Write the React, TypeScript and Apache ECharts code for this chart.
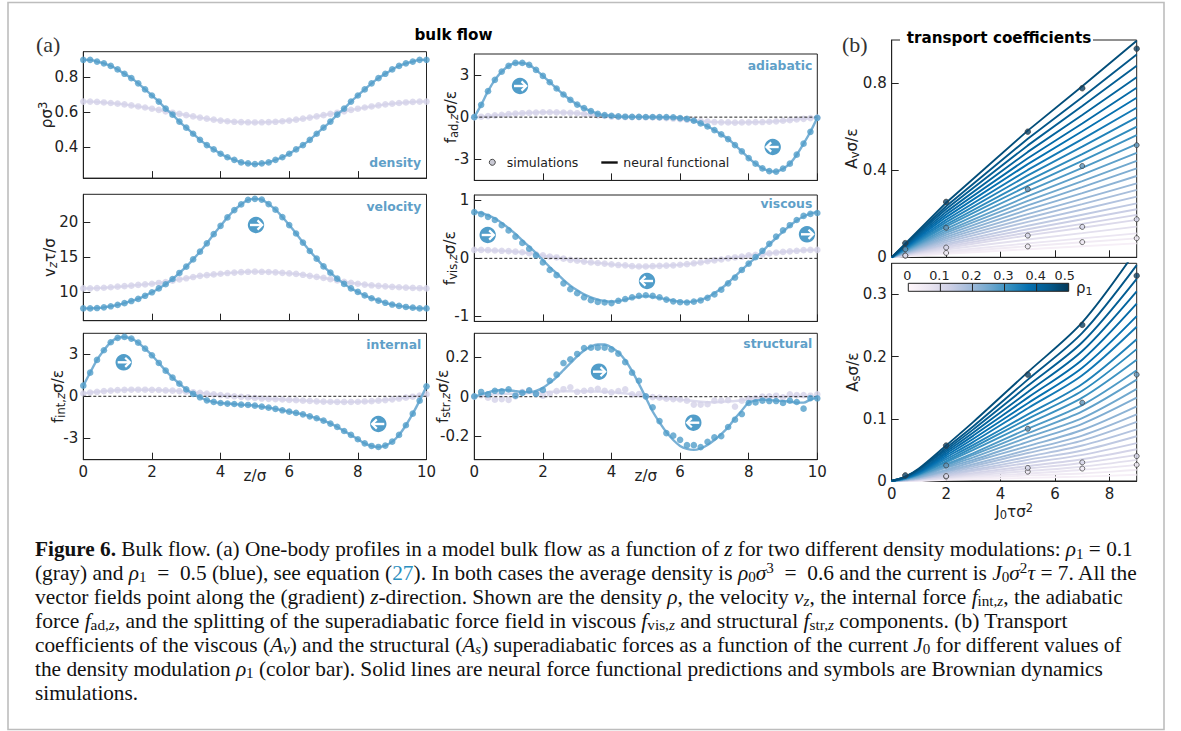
import React, { useEffect, useRef } from "react";
import * as echarts from "echarts";

// ---- data: z grid (sigma) ----
const zGrid = [0,0.2,0.4,0.6,0.8,1,1.2,1.4,1.6,1.8,2,2.2,2.4,2.6,2.8,3,3.2,3.4,3.6,3.8,4,4.2,4.4,4.6,4.8,5,5.2,5.4,5.6,5.8,6,6.2,6.4,6.6,6.8,7,7.2,7.4,7.6,7.8,8,8.2,8.4,8.6,8.8,9,9.2,9.4,9.6,9.8,10];

const densityBlue = [0.9,0.9,0.89,0.88,0.865,0.845,0.82,0.795,0.765,0.73,0.695,0.66,0.62,0.585,0.545,0.51,0.475,0.44,0.41,0.385,0.36,0.34,0.325,0.31,0.305,0.3,0.305,0.31,0.325,0.34,0.36,0.385,0.41,0.44,0.475,0.51,0.545,0.585,0.62,0.66,0.695,0.73,0.765,0.795,0.82,0.845,0.865,0.88,0.89,0.9,0.9];
const densityGray = [0.66,0.66,0.658,0.655,0.652,0.648,0.644,0.638,0.632,0.626,0.619,0.612,0.604,0.596,0.589,0.582,0.575,0.568,0.562,0.556,0.551,0.547,0.544,0.542,0.541,0.54,0.541,0.542,0.544,0.547,0.551,0.556,0.562,0.568,0.575,0.582,0.589,0.596,0.604,0.612,0.619,0.626,0.632,0.638,0.644,0.648,0.652,0.655,0.658,0.66,0.66];

const velocityBlue = [7.7,7.7,7.75,7.85,8.0,8.2,8.45,8.75,9.05,9.5,10.0,10.55,11.15,11.9,12.76,13.66,14.7,15.8,17.0,18.3,19.5,20.7,21.75,22.55,23.2,23.35,23.25,22.6,21.8,20.75,19.6,18.4,17.1,15.9,14.8,13.7,12.8,11.95,11.2,10.55,10.05,9.55,9.15,8.8,8.5,8.25,8.05,7.9,7.8,7.7,7.7];
const velocityGray = [10.55,10.56,10.6,10.65,10.72,10.8,10.87,10.95,11.05,11.13,11.22,11.33,11.47,11.65,11.85,12.0,12.18,12.35,12.45,12.55,12.65,12.75,12.82,12.88,12.93,12.95,12.93,12.9,12.85,12.78,12.7,12.62,12.5,12.35,12.2,12.05,11.88,11.7,11.5,11.35,11.22,11.1,11.0,10.92,10.85,10.78,10.72,10.67,10.62,10.58,10.55];

const internalBlue = [0.76,1.69,2.6,3.29,3.86,4.17,4.24,4.12,3.83,3.4,2.93,2.38,1.83,1.33,0.9,0.5,0.17,-0.07,-0.29,-0.4,-0.48,-0.52,-0.55,-0.6,-0.62,-0.67,-0.74,-0.81,-0.9,-1,-1.1,-1.19,-1.29,-1.43,-1.57,-1.74,-1.95,-2.19,-2.48,-2.76,-3.07,-3.36,-3.55,-3.62,-3.52,-3.24,-2.76,-2.07,-1.24,-0.31,0.71];
const internalGray = [0.2,0.27,0.32,0.37,0.4,0.44,0.46,0.47,0.47,0.47,0.46,0.45,0.42,0.4,0.37,0.33,0.29,0.24,0.19,0.14,0.09,0.04,0,-0.04,-0.08,-0.12,-0.16,-0.18,-0.2,-0.23,-0.26,-0.28,-0.31,-0.33,-0.36,-0.38,-0.39,-0.4,-0.4,-0.4,-0.39,-0.37,-0.35,-0.31,-0.27,-0.22,-0.16,-0.1,-0.03,0.05,0.15];

const adiabaticBlue = [0,0.88,1.86,2.67,3.26,3.67,3.88,3.88,3.74,3.38,2.95,2.5,2.05,1.62,1.24,0.9,0.64,0.43,0.24,0.14,0.1,0.05,0.03,0.02,0.02,0.01,0.01,0,0,-0.01,-0.07,-0.12,-0.26,-0.45,-0.67,-0.93,-1.24,-1.57,-2.0,-2.45,-2.93,-3.33,-3.67,-3.86,-3.9,-3.69,-3.33,-2.69,-1.9,-1.05,-0.05];
const adiabaticGray = [0,0.03,0.07,0.12,0.17,0.21,0.25,0.28,0.31,0.33,0.35,0.35,0.34,0.33,0.31,0.28,0.24,0.19,0.13,0.08,0.04,0.02,0,0,0,-0.01,-0.02,-0.04,-0.07,-0.1,-0.14,-0.19,-0.23,-0.28,-0.32,-0.35,-0.37,-0.38,-0.39,-0.38,-0.37,-0.36,-0.35,-0.33,-0.3,-0.26,-0.22,-0.17,-0.12,-0.07,-0.03];

const viscousBlue = [0.795,0.76,0.715,0.66,0.57,0.48,0.375,0.265,0.167,0.05,-0.07,-0.2,-0.29,-0.43,-0.53,-0.6,-0.67,-0.72,-0.75,-0.76,-0.77,-0.73,-0.7,-0.67,-0.645,-0.635,-0.645,-0.67,-0.71,-0.74,-0.755,-0.76,-0.745,-0.725,-0.68,-0.62,-0.54,-0.43,-0.33,-0.2,-0.09,0.02,0.13,0.25,0.375,0.48,0.57,0.66,0.73,0.765,0.78];
const viscousBlueLine = [0.8,0.78,0.74,0.685,0.61,0.52,0.42,0.31,0.2,0.09,-0.03,-0.15,-0.26,-0.37,-0.47,-0.55,-0.62,-0.67,-0.71,-0.735,-0.745,-0.735,-0.71,-0.68,-0.66,-0.65,-0.66,-0.68,-0.705,-0.73,-0.745,-0.75,-0.74,-0.715,-0.67,-0.6,-0.52,-0.42,-0.31,-0.2,-0.09,0.01,0.12,0.24,0.35,0.46,0.56,0.65,0.72,0.77,0.8];
const viscousGray = [0.145,0.145,0.14,0.135,0.13,0.125,0.115,0.105,0.09,0.07,0.05,0.03,0.015,-0.005,-0.025,-0.04,-0.055,-0.07,-0.08,-0.09,-0.105,-0.115,-0.12,-0.135,-0.14,-0.14,-0.135,-0.13,-0.125,-0.12,-0.11,-0.1,-0.085,-0.07,-0.05,-0.035,-0.02,0,0.015,0.03,0.05,0.06,0.07,0.085,0.1,0.11,0.12,0.13,0.14,0.145,0.145];

const structuralBlue = [0.002,0.024,0.012,0.03,0.027,0.037,0.005,0.019,0.032,0.014,0.034,0.081,0.112,0.171,0.19,0.217,0.247,0.249,0.249,0.249,0.24,0.219,0.176,0.122,0.081,0.002,-0.054,-0.124,-0.185,-0.198,-0.219,-0.246,-0.246,-0.256,-0.229,-0.207,-0.2,-0.154,-0.117,-0.088,-0.032,-0.029,-0.02,-0.022,-0.022,-0.032,-0.02,-0.027,-0.061,-0.007,-0.008];
const structuralBlueLine = [0,0.012,0.022,0.03,0.034,0.033,0.028,0.024,0.023,0.03,0.045,0.07,0.1,0.135,0.17,0.205,0.235,0.255,0.265,0.265,0.25,0.225,0.185,0.13,0.065,-0.005,-0.075,-0.13,-0.18,-0.22,-0.25,-0.265,-0.27,-0.262,-0.245,-0.22,-0.19,-0.155,-0.11,-0.07,-0.03,-0.02,-0.015,-0.017,-0.02,-0.022,-0.025,-0.03,-0.03,-0.015,-0.005];
const structuralGray = [0,0.008,-0.005,-0.015,-0.012,-0.016,0.002,0.024,0.03,0.018,0.005,0.015,0.028,0.038,0.048,0.025,0.03,0.033,0.04,0.03,0.022,0.028,0.037,0.012,0.013,0.002,-0.002,-0.005,-0.01,-0.012,-0.014,-0.02,-0.04,-0.04,-0.038,-0.02,-0.02,-0.018,-0.05,-0.02,-0.01,-0.008,0,0.002,0.005,-0.003,0.012,0.008,0.008,0.005,0.012];
const structuralGrayLine = [0,0.005,0.01,0.012,0.014,0.015,0.015,0.016,0.018,0.02,0.022,0.024,0.026,0.028,0.028,0.028,0.028,0.027,0.026,0.025,0.023,0.02,0.017,0.012,0.007,0.002,-0.003,-0.006,-0.01,-0.012,-0.015,-0.018,-0.022,-0.026,-0.028,-0.028,-0.026,-0.024,-0.022,-0.018,-0.013,-0.01,-0.006,-0.003,-0.001,0,0.002,0.003,0.003,0.002,0];

// ---- transport coefficients: one row per density modulation, highest rho1 first ----
const avCurrents = [0, 2, 5, 7, 9];
const avRows = [
  [0,0.251,0.583,0.787,0.997],[0,0.235,0.546,0.737,0.933],[0,0.222,0.515,0.696,0.881],[0,0.209,0.485,0.655,0.829],
  [0,0.197,0.456,0.616,0.78],[0,0.185,0.429,0.58,0.734],[0,0.173,0.402,0.544,0.688],[0,0.162,0.377,0.509,0.644],
  [0,0.151,0.352,0.475,0.601],[0,0.142,0.329,0.444,0.562],[0,0.131,0.305,0.412,0.521],[0,0.121,0.281,0.38,0.481],
  [0,0.112,0.26,0.351,0.444],[0,0.103,0.239,0.323,0.409],[0,0.094,0.219,0.295,0.374],[0,0.086,0.199,0.269,0.34],
  [0,0.078,0.181,0.245,0.31],[0,0.07,0.163,0.22,0.279],[0,0.062,0.145,0.196,0.248],[0,0.056,0.129,0.175,0.221],
  [0,0.049,0.114,0.154,0.195],[0,0.043,0.101,0.136,0.172],[0,0.036,0.082,0.111,0.141],[0,0.028,0.064,0.087,0.11],
  [0,0.022,0.051,0.069,0.087],[0,0.016,0.037,0.051,0.064],
];
const asCurrents = [0, 0.5, 1, 2, 3, 5, 7, 9];
const asRows = [
  [0,0.007,0.02,0.057,0.095,0.175,0.255,0.372],[0,0.007,0.019,0.053,0.088,0.163,0.238,0.347],
  [0,0.006,0.018,0.05,0.083,0.153,0.223,0.325],[0,0.006,0.016,0.047,0.078,0.143,0.209,0.305],
  [0,0.006,0.015,0.044,0.073,0.134,0.195,0.285],[0,0.005,0.014,0.041,0.068,0.125,0.182,0.265],
  [0,0.005,0.013,0.038,0.063,0.117,0.17,0.248],[0,0.005,0.012,0.035,0.058,0.107,0.156,0.228],
  [0,0.004,0.011,0.032,0.054,0.1,0.145,0.212],[0,0.004,0.011,0.03,0.05,0.092,0.134,0.195],
  [0,0.004,0.01,0.027,0.045,0.084,0.122,0.178],[0,0.003,0.009,0.025,0.042,0.077,0.112,0.163],
  [0,0.003,0.008,0.023,0.038,0.07,0.101,0.148],[0,0.003,0.007,0.021,0.034,0.063,0.092,0.134],
  [0,0.002,0.006,0.018,0.031,0.056,0.082,0.12],[0,0.002,0.006,0.016,0.027,0.05,0.073,0.107],
  [0,0.002,0.005,0.015,0.024,0.045,0.065,0.095],[0,0.002,0.004,0.013,0.021,0.039,0.057,0.083],
  [0,0.001,0.004,0.011,0.018,0.034,0.049,0.072],[0,0.001,0.003,0.009,0.016,0.029,0.042,0.061],
  [0,0.001,0.003,0.008,0.013,0.024,0.035,0.051],[0,0.001,0.002,0.006,0.011,0.02,0.029,0.042],
  [0,0.001,0.002,0.005,0.009,0.016,0.023,0.034],[0,0,0.001,0.004,0.007,0.012,0.018,0.026],
  [0,0,0.001,0.003,0.005,0.009,0.012,0.018],[0,0,0,0.002,0.003,0.005,0.007,0.01],
];
const avSim50 = [[0.5,0.065],[2,0.255],[5,0.578],[7,0.778],[9,0.96]];
const avSim30 = [[0.5,0.037],[2,0.136],[5,0.313],[7,0.42],[9,0.516]];
const avSim10 = [[0.5,0.008],[2,0.045],[5,0.1],[7,0.14],[9,0.175]];
const avSim05 = [[0.5,0.008],[2,0.02],[5,0.05],[7,0.07],[9,0.088]];
const asSim50 = [[0.5,0.009],[2,0.057],[5,0.171],[7,0.251],[9,0.33]];
const asSim30 = [[2,0.025],[5,0.084],[7,0.126],[9,0.171]];
const asSim10 = [[2,0.008],[5,0.021],[7,0.03],[9,0.04]];
const asSim05 = [[2,0.007],[5,0.015],[7,0.02],[9,0.026]];

const colorbarTicks = ["0", "0.1", "0.2", "0.3", "0.4", "0.5"];

const captionLines = [
  "{b|Figure 6.}{t| Bulk flow. (a) One-body profiles in a model bulk flow as a function of }{i|z}{t| for two different density modulations: }{i|ρ}{s|1}{t| = 0.1}",
  "{t|(gray) and }{i|ρ}{s|1}{t|  =  0.5 (blue), see equation (}{c|27}{t|). In both cases the average density is }{i|ρ}{s|0}{i|σ}{u|3}{t|  =  0.6 and the current is }{i|J}{s|0}{i|σ}{u|2}{i|τ}{t| = 7. All the}",
  "{t|vector fields point along the (gradient) }{i|z}{t|-direction. Shown are the density }{i|ρ}{t|, the velocity }{i|v}{si|z}{t|, the internal force }{i|f}{s|int,}{si|z}{t|, the adiabatic}",
  "{t|force }{i|f}{s|ad,}{si|z}{t|, and the splitting of the superadiabatic force field in viscous }{i|f}{s|vis,}{si|z}{t| and structural }{i|f}{s|str,}{si|z}{t| components. (b) Transport}",
  "{t|coefficients of the viscous (}{i|A}{si|v}{t|) and the structural (}{i|A}{si|s}{t|) superadiabatic forces as a function of the current }{i|J}{s|0}{t| for different values of}",
  "{t|the density modulation }{i|ρ}{s|1}{t| (color bar). Solid lines are neural force functional predictions and symbols are Brownian dynamics}",
  "{t|simulations.}",
];
const captionFit = [1.002, 1.008, 1.01, 1.0167, 1.005, 1.007, 1];

// ---- styling ----
const BLUE = "#519dc9", BLUE_LINE = "#78b0d5", GRAY = "#d4d2e8", GRAY_LINE = "#dddcee", LABEL = "#5f9fc8";
const SANS = "'DejaVu Sans'", SERIF = "'Liberation Serif'";
const PUBU = ["#fff7fb","#ece7f2","#d0d1e6","#a6bddb","#74a9cf","#3690c0","#0570b0","#045a8d","#023858"];
function pubu(t: number) {
  const p = Math.max(0, Math.min(0.9999, t)) * (PUBU.length - 1), i = Math.floor(p), f = p - i;
  const h = (s: string, k: number) => parseInt(s.slice(k, k + 2), 16);
  const c = [1, 3, 5].map((k) => Math.round(h(PUBU[i], k) * (1 - f) + h(PUBU[i + 1], k) * f));
  return `rgb(${c[0]},${c[1]},${c[2]})`;
}

const nameRich = {
  n: { fontFamily: SANS, fontSize: 15.2, lineHeight: 18, color: "#222" },
  s: { fontFamily: SANS, fontSize: 11.5, lineHeight: 18, color: "#222", padding: [6, 0, 0, 0] },
  si: { fontFamily: SANS, fontStyle: "italic", fontSize: 11.5, lineHeight: 18, color: "#222", padding: [6, 0, 0, 0] },
  u: { fontFamily: SANS, fontSize: 11.5, lineHeight: 18, color: "#222", padding: [0, 0, 8, 0] },
};

const ax = { line: { lineStyle: { color: "#222", width: 1 } } };
function xAxis(i: number, max: number, ticks: number[], labels: boolean, name?: string) {
  return {
    gridIndex: i, type: "value", min: 0, max,
    axisLine: { show: true, onZero: false, ...ax.line },
    splitLine: { show: false },
    axisTick: { show: true, inside: true, length: 7, lineStyle: { color: "#222" }, customValues: ticks },
    axisLabel: { show: labels, fontFamily: SANS, fontSize: 15, color: "#222", margin: 5, customValues: ticks, formatter: (v: number) => String(v) },
    name: name || "", nameLocation: "middle", nameGap: 7, nameMoveOverlap: false,
    nameTextStyle: { rich: nameRich },
  };
}
function yAxis(i: number, min: number, max: number, ticks: number[], name: string, gap: number) {
  return {
    gridIndex: i, type: "value", min, max,
    axisLine: { show: true, onZero: false, ...ax.line },
    splitLine: { show: false },
    axisTick: { show: true, inside: true, length: 7, lineStyle: { color: "#222" }, customValues: ticks },
    axisLabel: { fontFamily: SANS, fontSize: 15, color: "#222", margin: 5, customValues: ticks, formatter: (v: number) => String(v) },
    name, nameLocation: "middle", nameRotate: 90, nameGap: gap, nameMoveOverlap: false,
    nameTextStyle: { rich: nameRich },
  };
}

const pairs = (ys: number[]) => ys.map((y, i) => [zGrid[i], y]);
function profile(g: number, ptsGray: number[], ptsBlue: number[], lineGray: number[], lineBlue: number[], dashed: boolean) {
  const mk = (type: string, d: number[], col: string, z: number) => ({
    type, xAxisIndex: g, yAxisIndex: g, data: pairs(d), z, silent: true, ...(type === "line"
      ? { showSymbol: false, symbol: "none", smooth: 0.3, lineStyle: { color: col, width: 2.4 } }
      : { symbolSize: 6.6, clip: false, itemStyle: { color: col } }),
  });
  const out: any[] = [
    mk("line", lineGray, GRAY_LINE, 2),
    mk("scatter", ptsGray, GRAY, 3),
  ];
  if (dashed) out.push({ type: "line", xAxisIndex: g, yAxisIndex: g, data: [[0, 0], [10, 0]], symbol: "none", z: 4, silent: true, lineStyle: { color: "#222", width: 1, type: [3, 2] } });
  out.push(mk("line", lineBlue, BLUE_LINE, 5));
  out.push(mk("scatter", ptsBlue, BLUE, 6));
  return out;
}
function sim(g: number, d: number[][], fill: string, size: number) {
  return { type: "scatter", xAxisIndex: g, yAxisIndex: g, data: d, z: 20, clip: false, silent: true, symbolSize: size, itemStyle: { color: fill, borderColor: "#3c3c3c", borderWidth: 0.9 } };
}

function badge(x: number, y: number, right: boolean) {
  const d = right ? 1 : -1;
  return {
    type: "group", x, y, z: 30, children: [
      { type: "circle", shape: { cx: 0, cy: 0, r: 8.2 }, style: { fill: BLUE } },
      { type: "line", shape: { x1: -6 * d, y1: 0, x2: 5.5 * d, y2: 0 }, style: { stroke: "#fff", lineWidth: 2.4 } },
      { type: "polyline", shape: { points: [[1.5 * d, -4.6], [6.2 * d, 0], [1.5 * d, 4.6]] }, style: { stroke: "#fff", lineWidth: 2.2, fill: "none" } },
    ],
  };
}
const label = (text: string, x: number, y: number) => ({
  type: "text", x, y, z: 30, style: { text, fill: LABEL, fontFamily: SANS, fontWeight: "bold", fontSize: 12.4, textAlign: "right", textVerticalAlign: "middle" },
});
const CAP = 21.2;
const capRich = {
  t: { fontFamily: SERIF, fontSize: CAP, lineHeight: 24 },
  b: { fontFamily: SERIF, fontSize: CAP, fontWeight: "bold", lineHeight: 24 },
  i: { fontFamily: SERIF, fontSize: CAP, fontStyle: "italic", lineHeight: 24 },
  c: { fontFamily: SERIF, fontSize: CAP, lineHeight: 24, fill: "#2a8fc0" },
  s: { fontFamily: SERIF, fontSize: 15, lineHeight: 24, padding: [9, 0, 0, 0] },
  si: { fontFamily: SERIF, fontSize: 15, fontStyle: "italic", lineHeight: 24, padding: [9, 0, 0, 0] },
  u: { fontFamily: SERIF, fontSize: 15, lineHeight: 24, padding: [0, 0, 10, 0] },
};

export default function App() {
  const ref = useRef<HTMLDivElement>(null);
  useEffect(() => {
    document.body.style.margin = "0";
    const chart = echarts.init(ref.current!, undefined, { renderer: "svg" });
    const X1 = 83.3, X2 = 474.3, W = 343.2, H = 126.4;
    const grids = [
      { left: X1, top: 51.7, width: W, height: H },
      { left: X1, top: 194.3, width: W, height: H },
      { left: X1, top: 333.3, width: W, height: H },
      { left: X2, top: 54, width: W - 0.2, height: H },
      { left: X2, top: 195, width: W - 0.2, height: H },
      { left: X2, top: 333.3, width: W - 0.2, height: H },
      { left: 891.7, top: 40, width: 245, height: 217.3 },
      { left: 891.7, top: 263.3, width: 245, height: 217.7 },
    ].map((g) => ({ ...g, show: true, borderColor: "#222", borderWidth: 1, backgroundColor: "transparent" }));

    const lineSeries = (g: number, xs: number[], rows: number[][], smooth: any) =>
      rows.map((row, k) => ({
        type: "line", xAxisIndex: g, yAxisIndex: g, z: 10 + (rows.length - k) / 100, silent: true, symbol: "none", smooth,
        data: row.map((y, i) => [xs[i], y]),
        lineStyle: { color: pubu(0.06 + 0.86 * (rows.length - 1 - k) / (rows.length - 1)), width: 1.9 },
      }));

    const rhoColor = { r50: "#0d4266", r30: "#5f93b8", r10: "#d6d6e8", r05: "#eee9f3" };
    const cbX = 908.3, cbW = 160.4, cbY = 283.3, cbH = 8;
    const step = cbW / 5;

    chart.setOption({
      animation: false,
      backgroundColor: "#fff",
      grid: grids,
      xAxis: [
        xAxis(0, 10, [0, 2, 4, 6, 8, 10], false),
        xAxis(1, 10, [0, 2, 4, 6, 8, 10], false),
        xAxis(2, 10, [0, 2, 4, 6, 8, 10], true, "{n|z/σ}"),
        xAxis(3, 10, [0, 2, 4, 6, 8, 10], false),
        xAxis(4, 10, [0, 2, 4, 6, 8, 10], false),
        xAxis(5, 10, [0, 2, 4, 6, 8, 10], true, "{n|z/σ}"),
        xAxis(6, 9, [0, 2, 4, 6, 8], false),
        { ...xAxis(7, 9, [0, 2, 4, 6, 8], true, "{n|J}{s|0}{n|τσ}{u|2}"), nameGap: 22 },
      ],
      yAxis: [
        yAxis(0, 0.22, 0.947, [0.4, 0.6, 0.8], "{n|ρσ}{u|3}", 27.6),
        yAxis(1, 5.94, 24, [10, 15, 20], "{n|v}{si|z}{n|τ/σ}", 24),
        yAxis(2, -4.53, 4.5, [-3, 0, 3], "{n|f}{s|int,}{si|z}{n|σ/ε}", 16),
        yAxis(3, -4.53, 4.52, [-3, 0, 3], "{n|f}{s|ad,}{si|z}{n|σ/ε}", 14.6),
        yAxis(4, -1.085, 1.09, [-1, 0, 1], "{n|f}{s|vis,}{si|z}{n|σ/ε}", 15.3),
        yAxis(5, -0.32, 0.322, [-0.2, 0, 0.2], "{n|f}{s|str,}{si|z}{n|σ/ε}", 22),
        yAxis(6, 0, 1, [0, 0.4, 0.8], "{n|A}{s|v}{n|σ/ε}", 31),
        yAxis(7, 0, 0.35, [0, 0.1, 0.2, 0.3], "{n|A}{s|s}{n|σ/ε}", 30),
      ],
      series: [
        ...profile(0, densityGray, densityBlue, densityGray, densityBlue, false),
        ...profile(1, velocityGray, velocityBlue, velocityGray, velocityBlue, false),
        ...profile(2, internalGray, internalBlue, internalGray, internalBlue, true),
        ...profile(3, adiabaticGray, adiabaticBlue, adiabaticGray, adiabaticBlue, true),
        ...profile(4, viscousGray, viscousBlue, viscousGray, viscousBlueLine, true),
        ...profile(5, structuralGray, structuralBlue, structuralGrayLine, structuralBlueLine, true),
        ...lineSeries(6, avCurrents, avRows, false),
        ...lineSeries(7, asCurrents, asRows, 0.3),
        sim(6, avSim05, rhoColor.r05, 5), sim(6, avSim10, rhoColor.r10, 5), sim(6, avSim30, rhoColor.r30, 5), sim(6, avSim50, rhoColor.r50, 5.5),
        sim(7, asSim05, rhoColor.r05, 5), sim(7, asSim10, rhoColor.r10, 5), sim(7, asSim30, rhoColor.r30, 5), sim(7, asSim50, rhoColor.r50, 5.5),
      ],
      graphic: { elements: [
        { type: "rect", shape: { x: 8, y: 2.5, width: 1156, height: 727 }, z: 0, style: { fill: "none", stroke: "#bdbdbd", lineWidth: 1.6 } },
        { type: "text", x: 36, y: 44, style: { text: "(a)", fontFamily: SERIF, fontSize: 22, fill: "#333", textVerticalAlign: "middle" } },
        { type: "text", x: 842, y: 44, style: { text: "(b)", fontFamily: SERIF, fontSize: 22, fill: "#333", textVerticalAlign: "middle" } },
        { type: "text", x: 453.5, y: 35, style: { text: "bulk flow", fontFamily: SANS, fontWeight: "bold", fontSize: 15.2, fill: "#000", textAlign: "center", textVerticalAlign: "middle" } },
        { type: "rect", z: 40, shape: { x: 900, y: 30, width: 193, height: 16 }, style: { fill: "#fff" } },
        { type: "text", z: 41, x: 906.7, y: 38.3, style: { text: "transport coefficients", fontFamily: SANS, fontWeight: "bold", fontSize: 15.2, fill: "#000", textVerticalAlign: "middle" } },
        label("density", 421, 162), label("velocity", 421.3, 206.7), label("internal", 421.3, 344.3),
        label("adiabatic", 812.3, 65.7), label("viscous", 812.3, 203.3), label("structural", 812.3, 343.3),
        badge(520, 86, true), badge(772.7, 147, false), badge(256, 225, true),
        badge(487.7, 235, true), badge(807, 234.3, true), badge(647, 281, false),
        badge(123.7, 362.3, true), badge(378.3, 424, false), badge(599, 371.7, true), badge(693.3, 422.7, false),
        { type: "circle", z: 30, shape: { cx: 492.3, cy: 162.3, r: 3 }, style: { fill: "#c9c9d4", stroke: "#444", lineWidth: 1 } },
        { type: "text", z: 30, x: 506.7, y: 162.5, style: { text: "simulations", fontFamily: SANS, fontSize: 12.5, fill: "#222", textVerticalAlign: "middle" } },
        { type: "line", z: 30, shape: { x1: 601.3, y1: 162.5, x2: 617.7, y2: 162.5 }, style: { stroke: "#111", lineWidth: 2.4 } },
        { type: "text", z: 30, x: 623.3, y: 162.5, style: { text: "neural functional", fontFamily: SANS, fontSize: 12.5, fill: "#222", textVerticalAlign: "middle" } },
        { type: "rect", z: 30, shape: { x: cbX, y: cbY, width: cbW, height: cbH }, style: { stroke: "#222", lineWidth: 1, fill: new echarts.graphic.LinearGradient(0, 0, 1, 0, PUBU.map((c, i) => ({ offset: i / (PUBU.length - 1), color: c }))) } },
        ...[1, 2, 3, 4].map((i) => ({ type: "line", z: 31, shape: { x1: cbX + i * step, y1: cbY, x2: cbX + i * step, y2: cbY + cbH }, style: { stroke: "#222", lineWidth: 1 } })),
        ...colorbarTicks.map((t, i) => ({ type: "text", z: 31, x: cbX - 1 + i * step - (i === 5 ? 3 : 0), y: 275.7, style: { text: t, fontFamily: SANS, fontSize: 12.8, fill: "#222", textAlign: "center", textVerticalAlign: "middle" } })),
        { type: "text", z: 31, x: 1076, y: 288, style: { text: "{n|ρ}{s|1}", rich: { n: { fontFamily: SANS, fontSize: 15, lineHeight: 18, fill: "#222" }, s: { fontFamily: SANS, fontSize: 11, lineHeight: 18, fill: "#222", padding: [6, 0, 0, 0] } }, textVerticalAlign: "middle" } },
        ...captionLines.map((line, k) => ({ type: "text", z: 31, x: 35, y: 549 + 24 * k, scaleX: captionFit[k], style: { text: line, rich: capRich, fill: "#111", fontFamily: SERIF, fontSize: CAP, textVerticalAlign: "middle" } })),
      ] },
    });
    return () => chart.dispose();
  }, []);
  return <div ref={ref} style={{ position: "absolute", left: 0, top: 0, width: 1181, height: 731 }} />;
}
